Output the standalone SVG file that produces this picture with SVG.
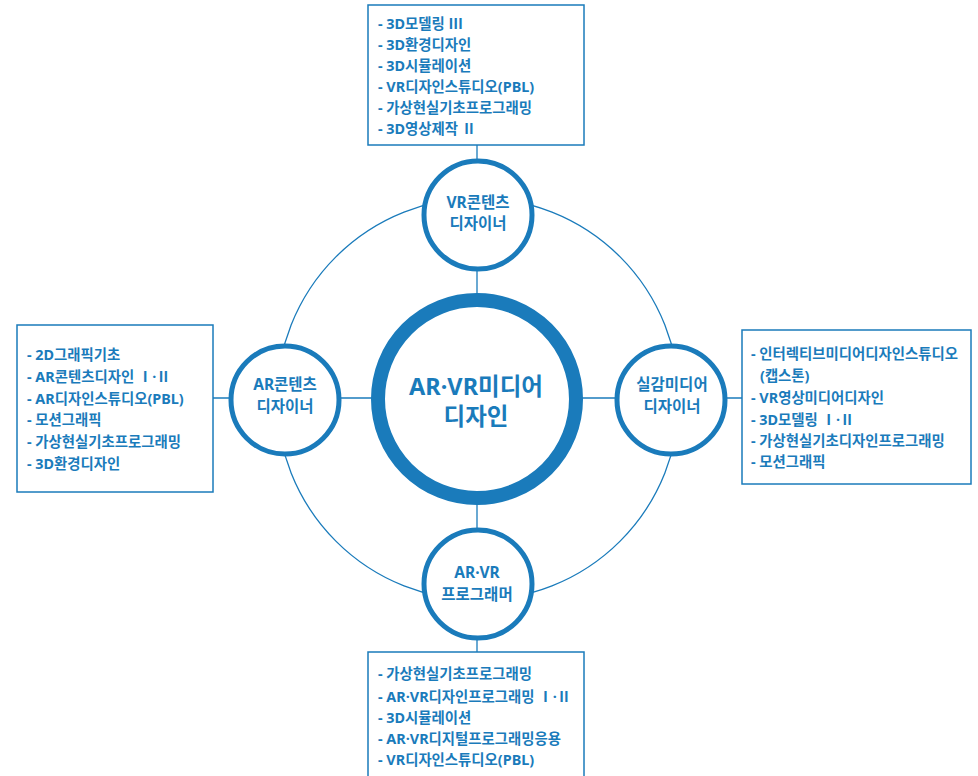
<svg xmlns="http://www.w3.org/2000/svg" width="978" height="776" viewBox="0 0 978 776">
<style>
  .box{fill:#fff;stroke:#1a7bbb;stroke-width:1.5}
  .line{stroke:#1a7bbb;stroke-width:1.3;fill:none}
  .node{fill:#fff;stroke:#1a7bbb;stroke-width:5}
  .hub{fill:#fff;stroke:#1a7bbb;stroke-width:14}
  .item{font-family:"Noto Sans","Noto Sans CJK KR",sans-serif;font-size:14.4px;font-weight:700;fill:#1a7bbb;dominant-baseline:central}
  .nt{font-family:"Noto Sans","Noto Sans CJK KR",sans-serif;font-size:15.5px;font-weight:700;fill:#1a7bbb;text-anchor:middle;dominant-baseline:central}
  .ht{font-family:"Noto Sans","Noto Sans CJK KR",sans-serif;font-size:23.5px;font-weight:700;fill:#1a7bbb;text-anchor:middle;dominant-baseline:central}
</style>
<rect width="978" height="776" fill="#fff"/>
<g id="connectors">
  <circle class="line" cx="478" cy="399" r="201"/>
  <line class="line" x1="477" y1="145" x2="477" y2="652"/>
  <line class="line" x1="213" y1="398" x2="742" y2="398"/>
</g>
<g id="hub">
  <circle class="hub" cx="477" cy="399" r="99"/>
  <text class="ht" x="476" y="386">AR·VR미디어</text>
  <text class="ht" x="476" y="416">디자인</text>
</g>
<g id="node-vr">
  <circle class="node" cx="478" cy="215" r="54"/>
  <text class="nt" x="478" y="202">VR콘텐츠</text>
  <text class="nt" x="478" y="223">디자이너</text>
</g>
<g id="node-ar">
  <circle class="node" cx="285" cy="400" r="54"/>
  <text class="nt" x="285" y="384">AR콘텐츠</text>
  <text class="nt" x="285" y="406">디자이너</text>
</g>
<g id="node-real">
  <circle class="node" cx="671" cy="400" r="54"/>
  <text class="nt" x="672" y="384">실감미디어</text>
  <text class="nt" x="672" y="406">디자이너</text>
</g>
<g id="node-prog">
  <circle class="node" cx="478" cy="584" r="54"/>
  <text class="nt" x="477" y="572">AR·VR</text>
  <text class="nt" x="477" y="594">프로그래머</text>
</g>
<g id="box-top">
  <rect class="box" x="368" y="5" width="216" height="140"/>
  <text class="item" x="378" y="23">- 3D모델링 Ⅲ</text>
  <text class="item" x="378" y="44">- 3D환경디자인</text>
  <text class="item" x="378" y="65">- 3D시뮬레이션</text>
  <text class="item" x="378" y="86">- VR디자인스튜디오(PBL)</text>
  <text class="item" x="378" y="107">- 가상현실기초프로그래밍</text>
  <text class="item" x="378" y="128">- 3D영상제작 Ⅱ</text>
</g>
<g id="box-left">
  <rect class="box" x="17" y="325" width="196" height="167"/>
  <text class="item" x="27" y="354">- 2D그래픽기초</text>
  <text class="item" x="27" y="376">- AR콘텐츠디자인 Ⅰ·Ⅱ</text>
  <text class="item" x="27" y="398">- AR디자인스튜디오(PBL)</text>
  <text class="item" x="27" y="419">- 모션그래픽</text>
  <text class="item" x="27" y="441">- 가상현실기초프로그래밍</text>
  <text class="item" x="27" y="463">- 3D환경디자인</text>
</g>
<g id="box-right">
  <rect class="box" x="742" y="330" width="229" height="154"/>
  <text class="item" x="751" y="353">- 인터렉티브미디어디자인스튜디오</text>
  <text class="item" x="760" y="375">(캡스톤)</text>
  <text class="item" x="751" y="397">- VR영상미디어디자인</text>
  <text class="item" x="751" y="419">- 3D모델링 Ⅰ·Ⅱ</text>
  <text class="item" x="751" y="440">- 가상현실기초디자인프로그래밍</text>
  <text class="item" x="751" y="461">- 모션그래픽</text>
</g>
<g id="box-bottom">
  <rect class="box" x="368" y="652" width="216" height="130"/>
  <text class="item" x="378" y="673">- 가상현실기초프로그래밍</text>
  <text class="item" x="378" y="696">- AR·VR디자인프로그래밍 Ⅰ·Ⅱ</text>
  <text class="item" x="378" y="717">- 3D시뮬레이션</text>
  <text class="item" x="378" y="738">- AR·VR디지털프로그래밍응용</text>
  <text class="item" x="378" y="759">- VR디자인스튜디오(PBL)</text>
</g>
</svg>
